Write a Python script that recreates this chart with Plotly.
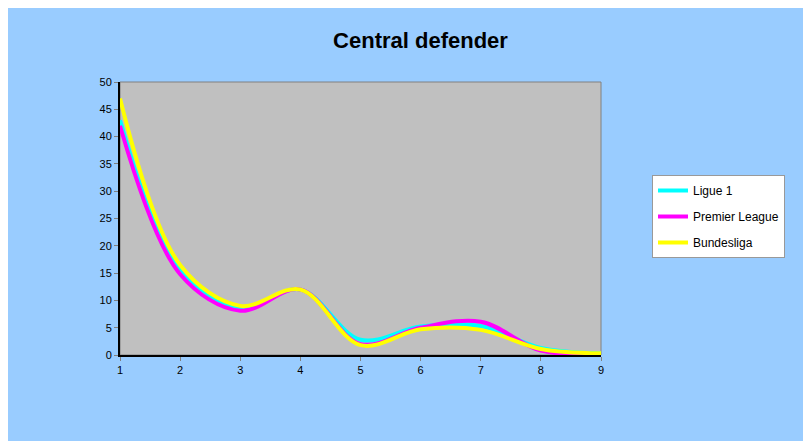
import plotly.graph_objects as go

positions = [1, 2, 3, 4, 5, 6, 7, 8, 9]
ligue1 = [43, 15.5, 8.5, 12, 2.8, 5.2, 5.3, 1.3, 0.3]
premier_league = [42, 14.8, 8.1, 12, 2.0, 5.0, 6.1, 0.8, 0.2]
bundesliga = [47, 16.5, 9.0, 12, 1.8, 4.7, 4.6, 1.1, 0.3]
y_ticks = [0, 5, 10, 15, 20, 25, 30, 35, 40, 45, 50]

series = [
    ("Ligue 1", ligue1, "#00FFFF"),
    ("Premier League", premier_league, "#FF00FF"),
    ("Bundesliga", bundesliga, "#FFFF00"),
]

W, H = 811, 441
L, R, T, B = 112, 593, 74, 347

fig = go.Figure()
for name, vals, col in series:
    fig.add_trace(go.Scatter(
        x=positions, y=vals, name=name, mode="lines",
        line=dict(color=col, width=4, shape="spline", smoothing=1),
        legendgroup=name,
    ))

font = "Liberation Sans, Arial, sans-serif"
fig.update_layout(
    width=W, height=H,
    margin=dict(l=L, r=W - R, t=T, b=H - B),
    paper_bgcolor="#99CCFF",
    plot_bgcolor="#C0C0C0",
    font=dict(family=font, size=11, color="black"),
    title=dict(text="<b>Central defender</b>", x=412.5 / W, xref="container",
               xanchor="center", y=1 - 32 / H, yref="container", yanchor="middle",
               font=dict(family=font, size=22, color="black")),
    xaxis=dict(range=[1, 9], tickvals=positions, showgrid=False, zeroline=False,
               showline=True, linecolor="black", linewidth=2,
               ticks="outside", ticklen=4, tickcolor="#808080",
               tickfont=dict(size=11)),
    yaxis=dict(range=[0, 50], tickvals=y_ticks, showgrid=False, zeroline=False,
               showline=True, linecolor="black", linewidth=2,
               ticks="outside", ticklen=4, tickcolor="#808080",
               tickfont=dict(size=11)),
    legend=dict(x=(644 - L) / (R - L), y=(B - 167) / (B - T), xanchor="left", yanchor="top",
                bgcolor="white", bordercolor="#999999", borderwidth=1,
                font=dict(family=font, size=12), tracegroupgap=7,
                traceorder="grouped", itemwidth=30, entrywidth=170,
                entrywidthmode="pixels"),
    showlegend=True,
    shapes=[
        dict(type="rect", xref="paper", yref="paper", x0=0, x1=1, y0=0, y1=1,
             fillcolor="#C0C0C0", line=dict(color="#808080", width=1), layer="below"),
    ],
)

fig.write_html("out.html")
